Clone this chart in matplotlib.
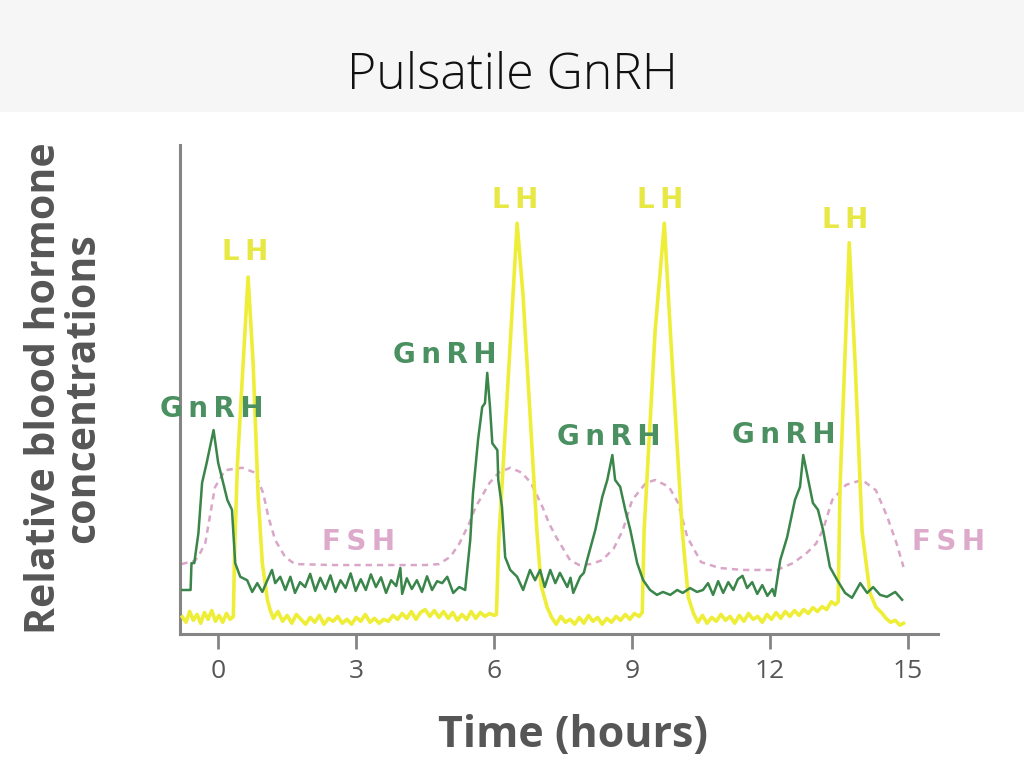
import matplotlib.pyplot as plt
from matplotlib.patches import Rectangle

# GnRH pulses (time in hours, relative concentration)
gnrh_t = [-0.78, -0.6, -0.58, -0.52, -0.43, -0.35, -0.25, -0.10, 0.00, 0.08, 0.20, 0.30, 0.37, 0.48, 0.63,
          0.74, 0.85, 0.96, 1.07, 1.17, 1.24, 1.35, 1.46, 1.57, 1.67, 1.78, 1.89, 2.00, 2.11, 2.22, 2.33,
          2.44, 2.55, 2.66, 2.77, 2.88, 2.99, 3.10, 3.21, 3.32, 3.43, 3.54, 3.65, 3.76, 3.87, 3.96, 4.00,
          4.10, 4.21, 4.32, 4.43, 4.54, 4.65, 4.76, 4.87, 4.98, 5.11, 5.24, 5.37, 5.48, 5.54, 5.65, 5.74,
          5.80, 5.85, 5.91, 5.96, 6.07, 6.09, 6.17, 6.24, 6.35, 6.50, 6.63, 6.78, 6.89, 7.00, 7.10, 7.22,
          7.33, 7.43, 7.59, 7.66, 7.72, 7.87, 7.95, 8.02, 8.20, 8.35, 8.46, 8.57, 8.63, 8.74, 8.85, 8.96,
          9.11, 9.24, 9.39, 9.54, 9.67, 9.83, 9.98, 10.10, 10.26, 10.41, 10.54, 10.65, 10.76, 10.87, 10.98,
          11.09, 11.20, 11.30, 11.40, 11.50, 11.61, 11.72, 11.83, 11.94, 12.05, 12.10, 12.22, 12.37, 12.54,
          12.65, 12.72, 12.83, 12.93, 13.04, 13.15, 13.30, 13.46, 13.63, 13.78, 13.96, 14.11, 14.24, 14.39,
          14.54, 14.72, 14.87]
gnrh_v = [9.0, 9.0, 14.5, 14.5, 20.6, 30.9, 35.0, 41.7, 35.0, 32.0, 27.4, 25.4, 14.5, 11.7, 11.0,
          8.6, 10.4, 8.6, 11.0, 13.1, 10.4, 11.7, 9.0, 11.7, 8.4, 10.6, 9.6, 12.3, 8.8, 11.5, 9.2,
          12.0, 8.6, 11.0, 9.4, 12.4, 8.8, 11.2, 9.0, 12.2, 9.6, 11.6, 8.4, 11.0, 9.8, 13.5, 8.2,
          11.4, 9.2, 11.0, 8.6, 11.8, 9.0, 10.8, 10.4, 11.7, 8.4, 9.6, 9.0, 19.2, 28.8, 39.7, 46.4,
          47.2, 53.4, 46.4, 39.0, 37.6, 31.5, 26.0, 15.7, 13.1, 11.7, 9.0, 13.1, 11.0, 13.1, 9.6, 13.1,
          10.4, 12.5, 9.6, 11.5, 8.4, 11.7, 12.5, 15.1, 21.3, 28.0, 31.5, 36.6, 31.5, 30.1, 25.4, 21.3,
          14.5, 11.0, 9.0, 8.0, 8.6, 8.0, 9.0, 8.4, 9.4, 8.6, 9.0, 10.4, 8.0, 10.8, 8.4,
          10.6, 9.0, 11.2, 11.9, 9.4, 10.6, 8.2, 10.0, 7.8, 9.2, 7.8, 15.1, 19.8, 27.4,
          30.1, 36.6, 31.5, 26.8, 25.4, 21.3, 13.7, 11.0, 8.4, 7.4, 10.4, 8.4, 9.6, 8.0,
          7.6, 8.6, 7.0]

# LH pulses
lh_t = [-0.78, -0.70, -0.62, -0.54, -0.46, -0.38, -0.30, -0.22, -0.14, -0.06, 0.02, 0.10, 0.18, 0.26, 0.33,
        0.36, 0.42, 0.65, 0.76, 0.87, 0.96, 1.07, 1.13, 1.20, 1.30, 1.40, 1.50, 1.60, 1.70, 1.80, 1.90,
        2.00, 2.10, 2.20, 2.30, 2.40, 2.50, 2.60, 2.70, 2.80, 2.90, 3.00, 3.10, 3.20, 3.30, 3.40, 3.50,
        3.60, 3.70, 3.80, 3.90, 4.00, 4.10, 4.20, 4.30, 4.40, 4.50, 4.60, 4.70, 4.80, 4.90, 5.00, 5.10,
        5.20, 5.30, 5.40, 5.50, 5.60, 5.70, 5.80, 5.90, 6.00, 6.05, 6.10, 6.20, 6.50, 6.63, 6.93, 7.02,
        7.15, 7.25, 7.35, 7.45, 7.55, 7.65, 7.75, 7.85, 7.95, 8.05, 8.15, 8.25, 8.35, 8.45, 8.55, 8.65,
        8.75, 8.85, 8.95, 9.05, 9.15, 9.22, 9.26, 9.50, 9.70, 9.83, 10.09, 10.22, 10.33, 10.43, 10.53,
        10.63, 10.73, 10.83, 10.93, 11.03, 11.13, 11.23, 11.33, 11.43, 11.53, 11.63, 11.73, 11.83, 11.93,
        12.03, 12.13, 12.23, 12.33, 12.43, 12.53, 12.63, 12.73, 12.83, 12.93, 13.03, 13.13, 13.23, 13.33,
        13.42, 13.48, 13.52, 13.72, 13.85, 14.00, 14.17, 14.30, 14.42, 14.52, 14.62, 14.72, 14.82, 14.90]
lh_v = [3.5, 2.4, 4.6, 2.8, 4.0, 2.2, 4.4, 3.0, 4.8, 2.6, 3.8, 2.4, 4.2, 3.0, 3.6,
        18.0, 35.0, 73.0, 55.4, 28.0, 14.5, 7.0, 4.9, 3.2, 4.6, 2.6, 3.8, 2.2, 4.0, 3.0, 2.0,
        3.4, 2.4, 3.8, 2.0, 3.2, 2.6, 3.6, 2.2, 3.0, 2.0, 3.4, 2.6, 4.0, 2.4, 3.2, 2.2,
        3.0, 2.6, 3.8, 3.0, 4.2, 3.2, 4.6, 3.0, 4.4, 5.0, 3.6, 4.8, 3.4, 4.6, 3.2, 4.4,
        2.8, 4.0, 3.0, 4.6, 3.2, 4.4, 3.6, 4.2, 3.8, 4.0, 19.0, 35.0, 84.0, 69.0, 21.0, 10.0,
        5.5, 3.4, 2.0, 3.6, 2.4, 3.0, 2.0, 3.4, 2.2, 3.8, 2.6, 3.4, 2.0, 3.2, 2.4, 3.6,
        2.8, 4.0, 3.0, 4.2, 3.6, 4.4, 21.0, 62.0, 84.0, 62.0, 21.0, 7.6, 4.3, 2.4, 3.8,
        2.2, 3.4, 2.6, 4.0, 2.8, 3.6, 2.2, 3.8, 2.6, 4.2, 3.0, 3.6, 2.4, 4.0,
        3.0, 4.4, 3.2, 4.6, 3.6, 4.8, 3.8, 5.0, 4.2, 5.4, 4.6, 5.6, 5.0, 6.6,
        6.0, 6.6, 30.0, 80.0, 55.0, 21.0, 8.4, 5.5, 4.4, 3.2, 2.4, 2.8, 1.8, 2.2]

# FSH (slow waves)
fsh_t = [-0.80, -0.50, -0.39, -0.28, -0.22, -0.07, 0.15, 0.52, 0.80, 0.98, 1.09, 1.24, 1.46, 1.67, 2.50,
         3.50, 4.50, 4.80, 5.05, 5.25, 5.45, 5.60, 5.90, 6.10, 6.35, 6.60, 6.80, 7.05, 7.20, 7.35, 7.65,
         7.85, 8.10, 8.35, 8.60, 8.80, 9.00, 9.30, 9.50, 9.80, 10.00, 10.20, 10.50, 10.90, 11.40, 12.15,
         12.50, 12.80, 13.00, 13.15, 13.35, 13.65, 14.00, 14.30, 14.55, 14.75, 14.90]
fsh_v = [14.3, 15.0, 16.6, 18.6, 21.9, 30.0, 33.5, 34.0, 33.0, 28.8, 24.0, 19.2, 15.7, 14.3, 14.1,
         14.1, 14.1, 14.3, 15.8, 18.6, 22.5, 26.0, 30.9, 33.0, 34.0, 33.0, 30.9, 26.0, 22.5, 19.8, 15.1,
         14.1, 14.3, 15.1, 17.5, 21.3, 27.4, 30.9, 31.5, 30.1, 26.8, 19.8, 14.7, 13.5, 13.1, 13.1,
         14.5, 16.6, 18.5, 21.3, 27.4, 30.5, 31.5, 29.4, 23.9, 18.5, 13.7]

x_ticks = [0, 3, 6, 9, 12, 15]

# label positions
gnrh_labels = [(-0.13, 46.0), (4.93, 57.0), (8.5, 40.3), (12.3, 40.7)]
lh_labels = [(0.59, 78.1), (6.46, 88.7), (9.61, 88.7), (13.63, 84.7)]
fsh_labels = [(3.04, 18.8), (15.87, 18.8)]

green = '#3a8549'
yellow = '#eeee38'
pink = '#d9a6c8'
axis_gray = '#858585'
text_gray = '#565656'

fig = plt.figure(figsize=(10.24, 7.68), dpi=100)

# slide title band
fig.patches.append(Rectangle((0, 1 - 112 / 768), 1, 112 / 768, transform=fig.transFigure,
                             facecolor='#f6f6f6', edgecolor='none', zorder=0))
fig.text(0.5, 1 - 76 / 768, 'Pulsatile GnRH', ha='center', va='center', fontsize=36,
         family='Open Sans', fontweight='light', color='#111111')

ax = fig.add_axes([180 / 1024, 1 - 634 / 768, 758 / 1024, 489 / 768])
ax.plot(fsh_t, fsh_v, color=pink, lw=1.8, ls=(0, (2.5, 2)), zorder=2)
ax.plot(lh_t, lh_v, color=yellow, lw=2.6, zorder=3)
ax.plot(gnrh_t, gnrh_v, color=green, lw=1.8, zorder=4)

ax.set_xlim(-0.83, 15.65)
ax.set_ylim(0, 100)
for s in ['top', 'right']:
    ax.spines[s].set_visible(False)
for s in ['left', 'bottom']:
    ax.spines[s].set_color(axis_gray)
    ax.spines[s].set_linewidth(2.2)
ax.set_yticks([])
ax.set_xticks(x_ticks)
ax.set_xticklabels([str(t) for t in x_ticks], family='Open Sans', fontsize=19, color=text_gray)
ax.tick_params(axis='x', direction='out', length=11, width=2, color=axis_gray, pad=7)

# spaced-out labels like the original artwork
def spaced(s):
    return '\u2009'.join(s)

lab_kw = dict(ha='center', va='center', fontsize=20, fontweight='bold', family='DejaVu Sans')
for x, y in gnrh_labels:
    ax.text(x, y, spaced('GnRH'), color='#4a9060', **lab_kw)
for x, y in lh_labels:
    ax.text(x, y, spaced('LH'), color='#e8e845', **lab_kw)
for x, y in fsh_labels:
    ax.text(x, y, spaced('FSH'), color='#ddaacb', **lab_kw)

fig.text(573 / 1024, 1 - 735 / 768, 'Time (hours)', ha='center', va='center', fontsize=31,
         fontweight='bold', family='Open Sans', color=text_gray)
fig.text(64 / 1024, 1 - 388 / 768, 'Relative blood hormone\nconcentrations', ha='center', va='center',
         rotation=90, fontsize=29.5, fontweight='bold', family='Open Sans', color=text_gray,
         linespacing=0.95)

fig.savefig('out.png', dpi=100)
